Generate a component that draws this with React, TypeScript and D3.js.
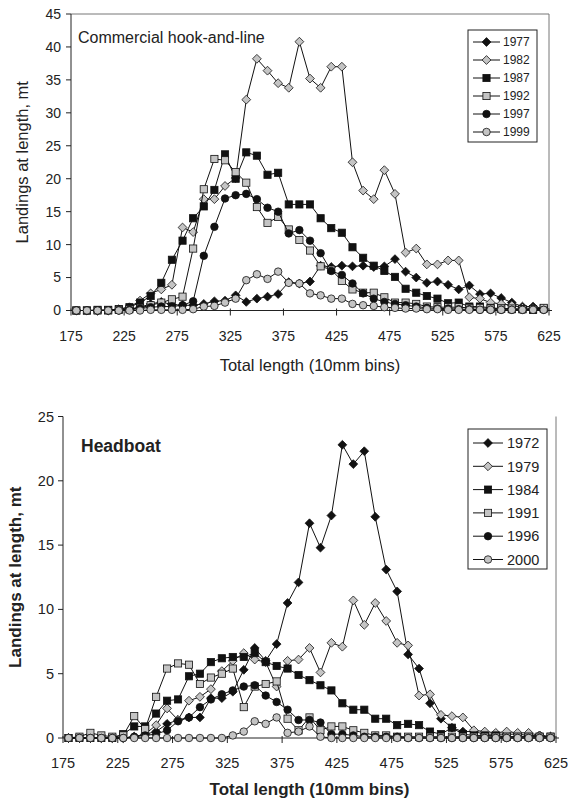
import React from "react";
import * as d3 from "d3";

const lengths = [180,190,200,210,220,230,240,250,260,270,280,290,300,310,320,330,340,350,360,370,380,390,400,410,420,430,440,450,460,470,480,490,500,510,520,530,540,550,560,570,580,590,600,610,620];
const xTicks = [175,225,275,325,375,425,475,525,575,625];

const c1977 = [0,0,0,0,0.1,0.2,0.5,1.0,1.3,0.9, 0.8,0.8,1.0,1.4,1.5,2.3,1.3,1.8,2.1,2.5, 4.3,4.1,4.4,6.8,6.6,6.8,6.7,6.8,6.6,6.7, 7.8,5.9,5.0,4.2,4.4,3.9,3.2,3.8,2.5,2.6, 1.9,1.2,0.6,0.6,0.3];
const c1982 = [0,0,0,0,0.2,0.5,1.5,2.6,3.2,3.9, 12.6,11.9,16.9,16.9,18.9,20.1,32.0,38.2,36.4,34.5, 33.8,40.8,35.2,33.8,37.0,37.0,22.5,18.2,16.9,21.3, 17.7,8.8,9.4,7.0,7.0,7.6,7.6,2.0,1.8,1.2, 1.0,0.8,0.4,0.3,0.2];
const c1987 = [0,0,0.1,0.1,0.2,0.5,1.2,2.2,4.2,7.7, 10.6,14.0,15.8,18.3,23.7,20.0,24.0,23.5,20.6,20.9, 16.1,16.1,16.1,14.0,12.5,11.8,9.6,8.0,6.8,6.0, 5.1,3.3,2.7,2.2,1.8,1.1,1.2,0.6,0.6,0.4, 0.3,0.2,0.2,0.1,0.3];
const c1992 = [0,0,0,0,0.1,0.2,0.4,0.8,1.2,1.7, 2.1,9.4,18.4,23.0,22.8,21.0,19.4,15.7,13.3,14.2, 12.3,10.7,9.1,6.7,6.2,4.5,3.2,2.7,2.7,2.0, 1.2,1.2,1.0,0.6,0.5,0.5,0.5,0.4,0.4,0.3, 0.3,0.3,0.2,0.2,0.4];
const c1997 = [0,0,0,0,0,0.1,0.3,0.5,0.6,0.6, 0.8,1.4,8.3,12.7,17.0,17.5,17.7,16.9,15.6,15.0, 11.7,12.2,10.6,8.7,6.0,5.4,4.1,2.6,1.8,1.3, 1.0,0.8,0.6,0.4,0.3,0.3,0.2,0.2,0.1,0.1, 0.1,0.1,0.1,0.1,0.1];
const c1999 = [0,0,0,0,0,0,0,0.1,0.1,0.1, 0.1,0.2,0.6,0.7,1.2,1.8,4.6,5.5,4.8,5.9, 4.2,4.1,2.6,2.3,1.8,1.8,1.0,0.8,0.7,0.5, 0.4,0.3,0.3,0.2,0.2,0.1,0.1,0.1,0.1,0.1, 0.1,0.1,0.1,0.1,0.1];

const h1972 = [0,0,0,0,0,0,0.1,0.3,0.5,1.1, 1.4,1.6,1.6,3.1,3.1,3.6,5.3,7.0,6.0,7.3, 10.5,12.1,16.7,14.8,17.3,22.8,21.3,22.3,17.2,13.1, 11.4,6.5,5.4,2.7,1.5,0.8,0.5,0.5,0.3,0.3, 0.3,0.3,0.2,0.2,0.1];
const h1979 = [0,0,0,0,0,0,0.1,0.3,1.0,2.3, 1.4,2.9,3.2,3.8,5.2,6.0,6.6,6.1,5.9,4.0, 6.0,6.1,7.0,5.1,7.4,7.1,10.7,8.8,10.5,9.1, 7.4,7.2,3.3,3.4,1.8,1.7,1.6,0.6,0.5,0.4, 0.5,0.4,0.4,0.2,0.1];
const h1984 = [0,0,0,0,0,0.3,0.9,0.9,1.9,2.9, 3.0,4.8,5.0,5.9,6.2,6.3,6.3,6.6,5.9,5.6, 5.4,4.9,4.5,4.1,3.7,2.7,2.2,2.2,1.5,1.5, 1.0,1.1,1.0,0.5,0.3,0.8,0.3,0.2,0.2,0.2, 0.1,0.1,0.1,0.1,0.1];
const h1991 = [0,0.1,0.4,0.2,0.1,0.2,1.7,0.7,3.2,5.4, 5.8,5.7,4.2,4.7,5.0,5.4,2.4,4.0,4.2,4.4, 1.5,0.6,1.6,0.6,0.9,0.9,0.6,0.4,0.2,0.2, 0.1,0.1,0.1,0.1,0.1,0.1,0.1,0.1,0.1,0.1, 0.1,0.1,0.1,0.1,0.1];
const h1996 = [0,0,0,0,0,0,0.1,0.2,0.3,0.6, 1.3,1.6,2.4,3.0,3.4,3.7,4.0,4.1,3.3,2.8, 2.2,1.4,1.4,1.2,0.3,0.3,0.2,0.1,0.1,0.1, 0.1,0,0,0,0,0,0,0,0,0, 0,0,0,0,0];
const h2000 = [0,0,0,0,0,0,0,0,0,0, 0,0,0,0,0,0.2,0.5,1.3,1.1,1.6, 0.4,0.5,0.9,0.1,0,0,0,0,0,0, 0,0,0,0,0,0,0,0,0,0, 0,0,0,0,0];

const topYears = ["1977","1982","1987","1992","1997","1999"];
const botYears = ["1972","1979","1984","1991","1996","2000"];
const topSeries = [c1977,c1982,c1987,c1992,c1997,c1999];
const botSeries = [h1972,h1979,h1984,h1991,h1996,h2000];
const markerKinds = ["diamond-black","diamond-gray","square-black","square-gray","circle-black","circle-gray"];
const topYTicks = [0,5,10,15,20,25,30,35,40,45];
const botYTicks = [0,5,10,15,20,25];

const FONT = "'Liberation Sans', Arial, Helvetica, sans-serif";
const GRAY = "#c4c4c4";

function Marker({ kind, x, y, s }: { kind: string; x: number; y: number; s: number }) {
  const fill = kind.endsWith("gray") ? GRAY : "#111";
  if (kind.startsWith("diamond")) {
    const r = s * 0.55;
    return <path d={`M${x},${y - r}L${x + r},${y}L${x},${y + r}L${x - r},${y}Z`} fill={fill} stroke="#111" strokeWidth={0.8} />;
  }
  if (kind.startsWith("square")) {
    const h = s * 0.45;
    return <rect x={x - h} y={y - h} width={2 * h} height={2 * h} fill={fill} stroke="#111" strokeWidth={0.8} />;
  }
  return <circle cx={x} cy={y} r={s * 0.47} fill={fill} stroke="#111" strokeWidth={0.8} />;
}

type Cfg = {
  x0: number; x1: number; y0: number; y1: number; yMax: number; yTicks: number[];
  series: number[][]; years: string[]; title: string; bold: boolean;
  titleX: number; titleY: number; titleSize: number;
  legend: { x: number; y: number; w: number; h: number; rowY0: number; rowDy: number; fs: number; lineX0: number; lineX1: number; textX: number };
  ms: number; tickFs: number; axisFs: number; xLabY: number; xTitleY: number; yTitleX: number; yLabX: number;
  topBorder: boolean;
};

function Chart({ c }: { c: Cfg }) {
  const x = d3.scaleLinear().domain([175, 625]).range([c.x0, c.x1]);
  const y = d3.scaleLinear().domain([0, c.yMax]).range([c.y0, c.y1]);
  const line = d3.line<number>().x((_, i) => x(lengths[i])).y((v) => y(v));
  const fw = c.bold ? "bold" : "normal";
  return (
    <g fontFamily={FONT}>
      {c.topBorder && <line x1={c.x0} x2={c.x1} y1={c.y1} y2={c.y1} stroke="#777" strokeWidth={1} />}
      <line x1={c.x1} x2={c.x1} y1={c.y1} y2={c.y0} stroke="#777" strokeWidth={1} />
      <line x1={c.x0} x2={c.x0} y1={c.y1} y2={c.y0} stroke="#222" strokeWidth={1} />
      <line x1={c.x0} x2={c.x1 + 3} y1={c.y0} y2={c.y0} stroke="#222" strokeWidth={1} />
      {c.yTicks.map((t) => (
        <g key={"y" + t}>
          <line x1={c.x0 - 5} x2={c.x0} y1={y(t)} y2={y(t)} stroke="#222" />
          <text x={c.yLabX} y={y(t)} dy="0.35em" textAnchor="end" fontSize={c.tickFs} fill="#222">{t}</text>
        </g>
      ))}
      {xTicks.map((t) => (
        <g key={"x" + t}>
          <line x1={x(t)} x2={x(t)} y1={c.y0 - 2} y2={c.y0 + 5} stroke="#222" />
          <text x={x(t)} y={c.xLabY} textAnchor="middle" fontSize={c.tickFs} fill="#222">{t}</text>
        </g>
      ))}
      <text x={(c.x0 + c.x1) / 2} y={c.xTitleY} textAnchor="middle" fontSize={c.axisFs} fontWeight={fw} fill="#222">Total length (10mm bins)</text>
      <text transform={`translate(${c.yTitleX},${(c.y0 + c.y1) / 2}) rotate(-90)`} textAnchor="middle" fontSize={c.axisFs} fontWeight={fw} fill="#222">Landings at length, mt</text>
      <text x={c.titleX} y={c.titleY} fontSize={c.titleSize} fontWeight={fw} fill="#222">{c.title}</text>
      {c.series.map((s, si) => (
        <g key={"s" + si}>
          <path d={line(s) || ""} fill="none" stroke="#111" strokeWidth={1} />
          {s.map((v, i) => <Marker key={i} kind={markerKinds[si]} x={x(lengths[i])} y={y(v)} s={c.ms} />)}
        </g>
      ))}
      <rect x={c.legend.x} y={c.legend.y} width={c.legend.w} height={c.legend.h} fill="#fff" stroke="#222" strokeWidth={1} />
      {c.years.map((yr, i) => {
        const ry = c.legend.rowY0 + i * c.legend.rowDy;
        const mx = (c.legend.lineX0 + c.legend.lineX1) / 2;
        return (
          <g key={yr}>
            <line x1={c.legend.lineX0} x2={c.legend.lineX1} y1={ry} y2={ry} stroke="#111" />
            <Marker kind={markerKinds[i]} x={mx} y={ry} s={c.ms} />
            <text x={c.legend.textX} y={ry} dy="0.36em" fontSize={c.legend.fs} fill="#222">{yr}</text>
          </g>
        );
      })}
    </g>
  );
}

const topCfg: Cfg = {
  x0: 71, x1: 549, y0: 310.5, y1: 14, yMax: 45, yTicks: topYTicks, series: topSeries, years: topYears,
  title: "Commercial hook-and-line", bold: false, titleX: 78, titleY: 43, titleSize: 16,
  legend: { x: 468, y: 30, w: 69, h: 112, rowY0: 42, rowDy: 18, fs: 12, lineX0: 473, lineX1: 500, textX: 503 },
  ms: 8, tickFs: 14, axisFs: 16.5, xLabY: 341, xTitleY: 371, yTitleX: 28, yLabX: 61, topBorder: true,
};
const botCfg: Cfg = {
  x0: 63, x1: 556, y0: 738, y1: 416.5, yMax: 25, yTicks: botYTicks, series: botSeries, years: botYears,
  title: "Headboat", bold: true, titleX: 81, titleY: 452, titleSize: 17.5,
  legend: { x: 468, y: 429, w: 79, h: 140, rowY0: 443, rowDy: 23.3, fs: 14.5, lineX0: 473, lineX1: 503, textX: 507 },
  ms: 8, tickFs: 14.5, axisFs: 17, xLabY: 768, xTitleY: 795, yTitleX: 21, yLabX: 54, topBorder: false,
};

export default function App() {
  return (
    <svg width={571} height={802} style={{ position: "absolute", left: 0, top: 0, background: "#fff" }}>
      <rect width={571} height={802} fill="#fff" />
      <Chart c={topCfg} />
      <Chart c={botCfg} />
    </svg>
  );
}
